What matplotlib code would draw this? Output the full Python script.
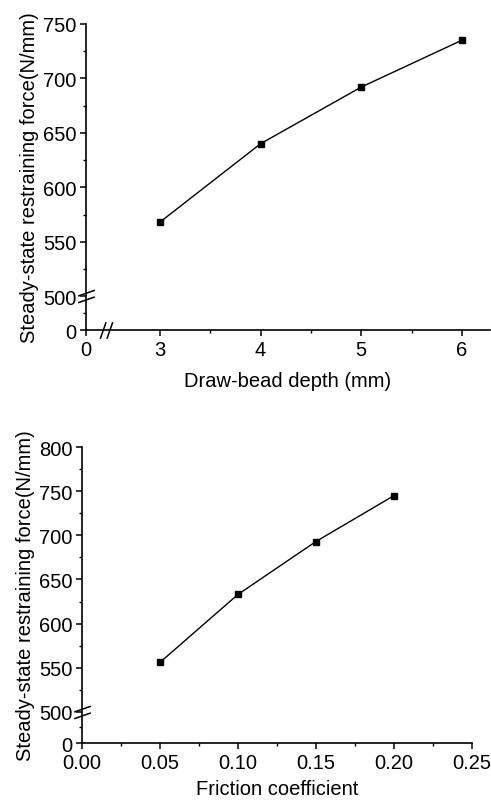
import numpy as np
import matplotlib
matplotlib.use("Agg")
import matplotlib.pyplot as plt
from matplotlib.path import Path

plt.rcParams['font.family'] = ['Liberation Sans', 'DejaVu Sans']

# data
depth = [3, 4, 5, 6]
force_depth = [568, 640, 692, 735]
friction = [0.05, 0.10, 0.15, 0.20]
force_friction = [556, 633, 693, 745]

depth_ticks = [0, 3, 4, 5, 6]
friction_ticks = [0.00, 0.05, 0.10, 0.15, 0.20, 0.25]
force_ticks_top = [0, 500, 550, 600, 650, 700, 750]
force_ticks_bot = [0, 500, 550, 600, 650, 700, 750, 800]
ylabel = "Steady-state restraining force(N/mm)"


def broken(lo, k):
    # compress everything below `lo` by factor k
    def fwd(v):
        v = np.asarray(v, float)
        return np.where(v <= lo, v * k, lo * k + (v - lo))

    def inv(u):
        u = np.asarray(u, float)
        return np.where(u <= lo * k, u / k, lo + (u - lo * k))
    return fwd, inv


slash = Path([(-1, -0.75), (1, -0.05), (-1, 0.05), (1, 0.75)],
             [Path.MOVETO, Path.LINETO, Path.MOVETO, Path.LINETO])
slash_x = Path([(-0.75, -1), (-0.05, 1), (0.05, -1), (0.75, 1)],
               [Path.MOVETO, Path.LINETO, Path.MOVETO, Path.LINETO])

FS = 14.5


def style(ax):
    for s in ("top", "right"):
        ax.spines[s].set_visible(False)
    for s in ("left", "bottom"):
        ax.spines[s].set_linewidth(1.2)
    ax.tick_params(which="major", direction="out", length=4, width=1.1,
                   labelsize=FS, pad=3)
    ax.tick_params(which="minor", direction="out", length=2.5, width=1.0)


fig = plt.figure(figsize=(4.91, 8.04), dpi=100)

# top panel
ax1 = fig.add_axes([0.175, 0.588, 0.823, 0.381])
ax1.set_yscale("function", functions=broken(500, 0.0625))
ax1.set_xscale("function", functions=broken(3, 0.245))
ax1.plot(depth, force_depth, color="black", lw=1.0, marker="s", ms=5)
ax1.set_xlim(0, 6.28)
ax1.set_ylim(0, 750)
ax1.set_xticks(depth_ticks)
ax1.set_xticks([3.5, 4.5, 5.5], minor=True)
ax1.set_yticks(force_ticks_top)
ax1.set_yticks([250, 525, 575, 625, 675, 725], minor=True)
style(ax1)
ax1.set_xlabel("Draw-bead depth (mm)", fontsize=FS, labelpad=9)
ax1.set_ylabel(ylabel, fontsize=FS, labelpad=3)
ax1.plot([0], [500], marker=slash, ms=12, color="black", mew=1.1,
         transform=ax1.get_yaxis_transform(), clip_on=False)
ax1.plot([0.8], [0], marker=slash_x, ms=12, color="black", mew=1.1,
         transform=ax1.get_xaxis_transform(), clip_on=False)

# bottom panel
ax2 = fig.add_axes([0.167, 0.0746, 0.794, 0.368])
ax2.set_yscale("function", functions=broken(500, 0.0708))
ax2.plot(friction, force_friction, color="black", lw=1.0, marker="s", ms=5)
ax2.set_xlim(0, 0.25)
ax2.set_ylim(0, 800)
ax2.set_xticks(friction_ticks)
ax2.set_xticklabels([f"{t:.2f}" for t in friction_ticks])
ax2.set_xticks(np.arange(0.025, 0.25, 0.05), minor=True)
ax2.set_yticks(force_ticks_bot)
ax2.set_yticks([250, 525, 575, 625, 675, 725, 775], minor=True)
style(ax2)
ax2.set_xlabel("Friction coefficient", fontsize=FS, labelpad=5)
ax2.set_ylabel(ylabel, fontsize=FS, labelpad=3)
ax2.plot([0], [500], marker=slash, ms=12, color="black", mew=1.1,
         transform=ax2.get_yaxis_transform(), clip_on=False)

fig.savefig("out.png", dpi=100)
